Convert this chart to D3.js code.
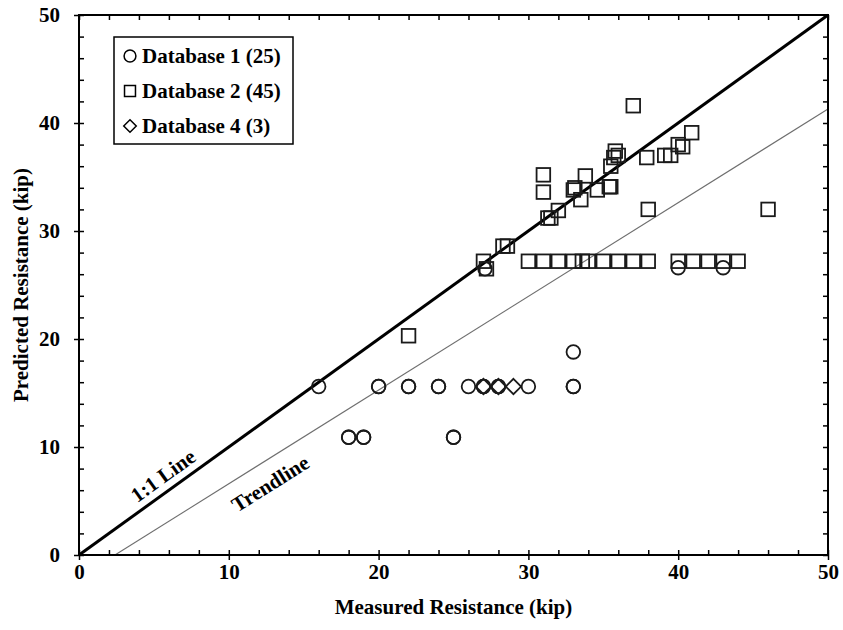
<!DOCTYPE html>
<html lang="en">
<head>
<meta charset="utf-8">
<title>Predicted vs measured resistance</title>
<script src="https://cdn.jsdelivr.net/npm/d3@7"></script>
<style>
  body { margin: 0; background: #fff; }
  svg text { font-family: "Liberation Serif", "Times New Roman", serif; font-weight: bold; fill: #000; }
</style>
</head>
<body>
<svg></svg>
<script>
// Database 1 (circles)
var db1X = [16, 18, 19, 20, 22, 22, 24, 24, 25, 26, 27, 27, 28, 28, 30, 33, 33, 33, 27.1, 40, 43, 18, 19, 25, 20];
var db1Y = [15.6, 10.9, 10.9, 15.6, 15.6, 15.6, 15.6, 15.6, 10.9, 15.6, 15.6, 15.6, 15.6, 15.6, 15.6, 15.6, 15.6, 18.8, 26.5, 26.6, 26.6, 10.9, 10.9, 10.9, 15.6];
// Database 2 (squares)
var db2X = [22, 27, 27.2, 28.3, 28.6, 30, 31, 32, 33, 33.6, 34, 35, 36, 37, 38, 40, 41, 42, 43, 44,
            31, 31, 31.3, 31.5, 32, 33, 33.1, 33.5, 33.8, 34.6, 35.4, 35.5, 35.5, 35.7, 35.8, 36,
            37, 37.9, 38, 39.1, 39.5, 40, 40.3, 40.9, 46];
var db2Y = [20.3, 27.2, 26.5, 28.6, 28.6, 27.2, 27.2, 27.2, 27.2, 27.2, 27.2, 27.2, 27.2, 27.2, 27.2, 27.2, 27.2, 27.2, 27.2, 27.2,
            35.2, 33.6, 31.2, 31.2, 31.9, 33.8, 34.0, 32.9, 35.1, 33.8, 34.1, 34.1, 36.0, 36.8, 37.4, 37.0,
            41.6, 36.8, 32.0, 37.0, 37.0, 38.0, 37.8, 39.1, 32.0];
// Database 4 (diamonds)
var db4X = [27, 28, 29];
var db4Y = [15.6, 15.6, 15.6];

var legendLabels = ["Database 1 (25)", "Database 2 (45)", "Database 4 (3)"];
var majorTicks = [0, 10, 20, 30, 40, 50];
var minorTicks = d3.range(0, 51, 2);
var oneToOne = [[0, 0], [50, 50]];
var trendline = [[2.4, 0], [50, 41.3]];

var width = 843, height = 630;
var plotLeft = 79, plotRight = 828, plotTop = 15, plotBottom = 555;

var svg = d3.select("svg").attr("width", width).attr("height", height);

var x = d3.scaleLinear().domain([0, 50]).range([plotLeft, plotRight]);
var y = d3.scaleLinear().domain([0, 50]).range([plotBottom, plotTop]);

// lines
var line = d3.line().x(function(d) { return x(d[0]); }).y(function(d) { return y(d[1]); });
svg.append("path").datum(trendline).attr("d", line)
  .attr("fill", "none").attr("stroke", "#6e6e6e").attr("stroke-width", 1.1);
svg.append("path").datum(oneToOne).attr("d", line)
  .attr("fill", "none").attr("stroke", "#000").attr("stroke-width", 3);

// line labels, rotated along the lines
function lineLabel(txt, pts, dataX, offset) {
  var ang = Math.atan2(y(pts[1][1]) - y(pts[0][1]), x(pts[1][0]) - x(pts[0][0])) * 180 / Math.PI;
  var t = (dataX - pts[0][0]) / (pts[1][0] - pts[0][0]);
  var px = x(dataX), py = y(pts[0][1] + t * (pts[1][1] - pts[0][1]));
  svg.append("text")
    .attr("transform", "translate(" + px + "," + py + ") rotate(" + ang + ")")
    .attr("text-anchor", "middle").attr("y", offset)
    .style("font-size", "21px").text(txt);
}
lineLabel("1:1 Line", oneToOne, 6.2, -8);
lineLabel("Trendline", trendline, 12.0, 29);

// markers
var mk = svg.append("g").attr("fill", "none").attr("stroke", "#1a1a1a").attr("stroke-width", 1.8);
mk.selectAll(".c").data(d3.range(db1X.length)).enter().append("circle")
  .attr("cx", function(i) { return x(db1X[i]); })
  .attr("cy", function(i) { return y(db1Y[i]); })
  .attr("r", 6.8);
mk.selectAll(".s").data(d3.range(db2X.length)).enter().append("rect")
  .attr("x", function(i) { return x(db2X[i]) - 6.8; })
  .attr("y", function(i) { return y(db2Y[i]) - 6.8; })
  .attr("width", 13.6).attr("height", 13.6);
var diamond = d3.symbol().type(d3.symbolDiamond2).size(150);
mk.selectAll(".d").data(d3.range(db4X.length)).enter().append("path")
  .attr("d", diamond)
  .attr("transform", function(i) { return "translate(" + x(db4X[i]) + "," + y(db4Y[i]) + ")"; });

// frame
svg.append("rect").attr("x", plotLeft).attr("y", plotTop)
  .attr("width", plotRight - plotLeft).attr("height", plotBottom - plotTop)
  .attr("fill", "none").attr("stroke", "#000").attr("stroke-width", 2);

function styleAxis(g) {
  g.select(".domain").remove();
  g.selectAll("line").attr("stroke", "#000").attr("stroke-width", 1.5);
  g.selectAll("text").style("font-size", "21px").style("font-family", null);
}

// minor ticks (inward), all four sides
svg.append("g").attr("transform", "translate(0," + plotBottom + ")")
  .call(d3.axisBottom(x).tickValues(minorTicks).tickSize(-5).tickFormat("")).call(styleAxis);
svg.append("g").attr("transform", "translate(0," + plotTop + ")")
  .call(d3.axisTop(x).tickValues(minorTicks).tickSize(-5).tickFormat("")).call(styleAxis);
svg.append("g").attr("transform", "translate(" + plotLeft + ",0)")
  .call(d3.axisLeft(y).tickValues(minorTicks).tickSize(-5).tickFormat("")).call(styleAxis);
svg.append("g").attr("transform", "translate(" + plotRight + ",0)")
  .call(d3.axisRight(y).tickValues(minorTicks).tickSize(-5).tickFormat("")).call(styleAxis);

// major ticks (outward) with labels
svg.append("g").attr("transform", "translate(0," + plotBottom + ")")
  .call(d3.axisBottom(x).tickValues(majorTicks).tickSize(5).tickPadding(4).tickFormat(d3.format("d"))).call(styleAxis);
svg.append("g").attr("transform", "translate(" + plotLeft + ",0)")
  .call(d3.axisLeft(y).tickValues(majorTicks).tickSize(5).tickPadding(14).tickFormat(d3.format("d"))).call(styleAxis);

// axis titles
svg.append("text").attr("x", (plotLeft + plotRight) / 2).attr("y", 614)
  .attr("text-anchor", "middle").style("font-size", "21px").text("Measured Resistance (kip)");
svg.append("text").attr("transform", "translate(28," + (plotTop + plotBottom) / 2 + ") rotate(-90)")
  .attr("text-anchor", "middle").style("font-size", "21px").text("Predicted Resistance (kip)");

// legend
var lg = svg.append("g");
lg.append("rect").attr("x", 114).attr("y", 37).attr("width", 179).attr("height", 107)
  .attr("fill", "#fff").attr("stroke", "#000").attr("stroke-width", 1.5);
var rows = lg.selectAll(".row").data(legendLabels).enter().append("g")
  .attr("transform", function(d, i) { return "translate(130," + (56 + i * 35) + ")"; });
rows.append("text").attr("x", 12).attr("dy", "0.35em").style("font-size", "21px").text(function(d) { return d; });
var sym = [d3.symbolCircle, d3.symbolSquare, d3.symbolDiamond2];
var symSize = [110, 120, 100];
rows.append("path")
  .attr("d", function(d, i) { return d3.symbol().type(sym[i]).size(symSize[i])(); })
  .attr("fill", "none").attr("stroke", "#000").attr("stroke-width", 1.5);
</script>
</body>
</html>
